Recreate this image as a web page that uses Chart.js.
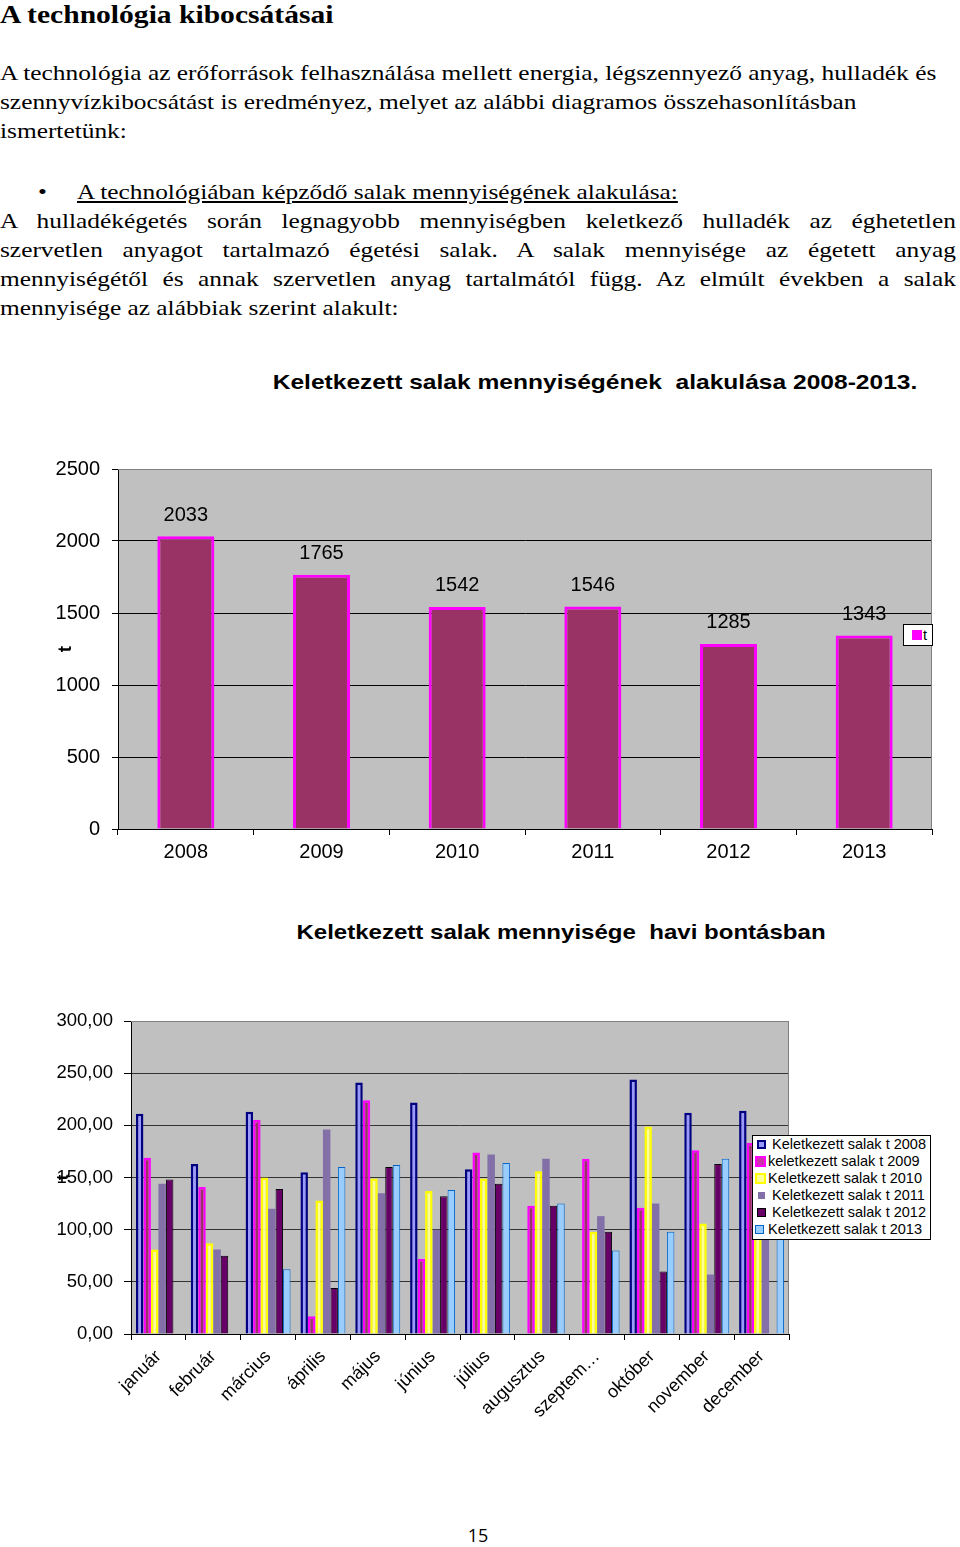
<!DOCTYPE html>
<html lang="hu">
<head>
<meta charset="utf-8">
<title>A technológia kibocsátásai</title>
<script src="https://cdn.jsdelivr.net/npm/chart.js@4.4.1/dist/chart.umd.min.js"></script>
<style>
  body { margin: 0; background: #fff; }
  #page { position: relative; width: 960px; height: 1547px; overflow: hidden;
          font-family: "Liberation Serif", "Times New Roman", serif; color: #000; }
  .ln { position: absolute; left: 0; font-size: 22px; line-height: 29px; white-space: nowrap;
        transform: scaleX(1.153); transform-origin: 0 0; }
  .just { width: 829px; text-align: justify; text-align-last: justify; white-space: normal; }
  .head { position: absolute; left: 0; top: 0; font-size: 26px; line-height: 29px; font-weight: bold;
          transform: scaleX(1.137); transform-origin: 0 0; white-space: nowrap; }
  .ctitle { position: absolute; font-family: "Liberation Sans", Arial, sans-serif; font-weight: bold;
            font-size: 21px; line-height: 24px; white-space: pre; }
  canvas { position: absolute; left: 0; }
  .legend { position: absolute; background: #fff; border: 1px solid #000; box-sizing: border-box;
            font-family: "Liberation Sans", Arial, sans-serif; font-size: 14.5px; line-height: 17px; }
  .legend div { position: relative; padding-left: 20px; white-space: nowrap; }
  .legend i { position: absolute; box-sizing: border-box; }
  .pnum { position: absolute; left: 478px; top: 1523px; transform: translateX(-50%);
          font-family: "Open Sans", "Liberation Sans", sans-serif; font-size: 18px; }
</style>
</head>
<body>
<div id="page">
  <div class="head">A technológia kibocsátásai</div>
  <div class="ln" style="top:58px">A technológia az erőforrások felhasználása mellett energia, légszennyező anyag, hulladék és</div>
  <div class="ln" style="top:87px">szennyvízkibocsátást is eredményez, melyet az alábbi diagramos összehasonlításban</div>
  <div class="ln" style="top:116px">ismertetünk:</div>
  <div class="ln" style="top:177px;left:38px">•</div>
  <div class="ln" style="top:177px;left:77px;text-decoration:underline">A technológiában képződő salak mennyiségének alakulása:</div>
  <div class="ln just" style="top:206px">A hulladékégetés során legnagyobb mennyiségben keletkező hulladék az éghetetlen</div>
  <div class="ln just" style="top:235px">szervetlen anyagot tartalmazó égetési salak. A salak mennyisége az égetett anyag</div>
  <div class="ln just" style="top:264px">mennyiségétől és annak szervetlen anyag tartalmától függ. Az elmúlt években a salak</div>
  <div class="ln" style="top:293px">mennyisége az alábbiak szerint alakult:</div>

  <div class="ctitle" style="left:595px;top:370px;transform:translateX(-50%) scaleX(1.17)">Keletkezett salak mennyiségének  alakulása 2008-2013.</div>
  <canvas id="yearly" width="960" height="440" style="top:440px"></canvas>
  <div class="legend" id="yearlyLegend" style="left:903px;top:624px;width:30px;height:22px"></div>

  <div class="ctitle" style="left:561px;top:920px;transform:translateX(-50%) scaleX(1.145)">Keletkezett salak mennyisége  havi bontásban</div>
  <canvas id="monthly" width="960" height="450" style="top:990px"></canvas>
  <div class="legend" id="monthlyLegend" style="left:752px;top:1135px;width:179px;height:105px"></div>

  <div class="pnum">15</div>
</div>

<script>
// --- éves adatok ---
const years = ['2008', '2009', '2010', '2011', '2012', '2013'];
const yearlyTons = [2033, 1765, 1542, 1546, 1285, 1343];

// --- havi adatok (t) ---
const months = ['január', 'február', 'március', 'április', 'május', 'június',
                'július', 'augusztus', 'szeptem…', 'október', 'november', 'december'];
const t2008 = [211, 163, 213, 155, 241, 222, 158, null, null, 244, 212, 214];
const t2009 = [169, 141, 205, 17, 224, 72, 174, 123, 168, 121, 176, 183];
const t2010 = [81, 87, 150, 128, 149, 137, 149, 156, 98, 199, 106, 112];
const t2011 = [144, 81, 120, 196, 135, 100, 172, 168, 113, 125, 57, 120];
const t2012 = [148, 75, 139, 44, 160, 132, 144, 123, 98, 60, 163, null];
const t2013 = [null, null, 62, 160, 162, 138, 164, 125, 80, 98, 168, 140];
const monthlyTicks = [0, 50, 100, 150, 200, 250, 300];

Chart.defaults.font.family = '"Liberation Sans", Arial, sans-serif';
Chart.defaults.color = '#000';
Chart.defaults.animation = false;

// szürke rajzterület, szürke keret jobb oldalon
const plotBg = {
  id: 'plotBg',
  beforeDraw(chart) {
    const { ctx, chartArea: a } = chart;
    ctx.save();
    ctx.fillStyle = '#c0c0c0';
    ctx.fillRect(a.left, a.top, a.right - a.left, a.bottom - a.top);
    ctx.restore();
  },
  beforeDatasetsDraw(chart) {
    const { ctx, chartArea: a } = chart;
    ctx.save();
    ctx.strokeStyle = '#808080';
    ctx.lineWidth = 1;
    ctx.beginPath();
    ctx.moveTo(a.left, a.top + 0.5);
    ctx.lineTo(a.right - 0.5, a.top + 0.5);
    ctx.lineTo(a.right - 0.5, a.bottom);
    ctx.stroke();
    ctx.restore();
  }
};

const barValues = {
  id: 'barValues',
  afterDatasetsDraw(chart) {
    const { ctx } = chart;
    const meta = chart.getDatasetMeta(0);
    ctx.save();
    ctx.font = '20px "Liberation Sans", Arial, sans-serif';
    ctx.fillStyle = '#000';
    ctx.textAlign = 'center';
    ctx.textBaseline = 'middle';
    meta.data.forEach((bar, i) => {
      ctx.fillText(String(yearlyTons[i]), bar.x, bar.y - 21);
    });
    ctx.restore();
  }
};

new Chart(document.getElementById('yearly'), {
  type: 'bar',
  data: {
    labels: years,
    datasets: [{
      label: 't',
      data: yearlyTons,
      backgroundColor: '#993366',
      borderColor: '#ff00ff',
      borderWidth: 3,
      categoryPercentage: 1,
      barPercentage: 0.42
    }]
  },
  options: {
    responsive: false,
    layout: { padding: { top: 29, right: 28, left: 0, bottom: 0 } },
    plugins: { legend: { display: false }, tooltip: { enabled: false } },
    scales: {
      x: {
        afterFit: s => { s.height = 51; },
        grid: { drawOnChartArea: false, color: '#000', tickLength: 6 },
        border: { color: '#000' },
        ticks: { font: { size: 20 }, padding: 5, color: '#000' }
      },
      y: {
        min: 0, max: 2500,
        afterFit: s => { s.width = 118; },
        ticks: { stepSize: 500, font: { size: 20 }, padding: 12, color: '#000', callback: v => String(v) },
        grid: { color: c => (c.tick && c.tick.value === 2500 ? '#808080' : '#000'), tickLength: 6, tickColor: '#000' },
        border: { color: '#000' },
        title: { display: true, text: 't', font: { size: 19, weight: 'bold' }, padding: { top: 54, bottom: 0 } }
      }
    }
  },
  plugins: [plotBg, barValues]
});

const series = [
  { label: 'Keletkezett salak t 2008', data: t2008, backgroundColor: '#9999ff', borderColor: '#000080', borderWidth: 2.5 },
  { label: 'keletkezett salak t 2009', data: t2009, backgroundColor: '#993366', borderColor: '#ff00ff', borderWidth: 2.5 },
  { label: 'Keletkezett salak t 2010', data: t2010, backgroundColor: '#ffff99', borderColor: '#ffff00', borderWidth: 2.5 },
  { label: 'Keletkezett salak t 2011', data: t2011, backgroundColor: '#8470a8', borderColor: '#8470a8', borderWidth: 0 },
  { label: 'Keletkezett salak t 2012', data: t2012, backgroundColor: '#660066', borderColor: '#000000', borderWidth: 1 },
  { label: 'Keletkezett salak t 2013', data: t2013, backgroundColor: '#99ccff', borderColor: '#0066cc', borderWidth: 1 }
];

new Chart(document.getElementById('monthly'), {
  type: 'bar',
  data: {
    labels: months,
    datasets: series.map(s => Object.assign({ categoryPercentage: 0.82, barPercentage: 1, borderSkipped: 'start' }, s))
  },
  options: {
    responsive: false,
    layout: { padding: { top: 31, right: 171, left: 0, bottom: 0 } },
    plugins: { legend: { display: false }, tooltip: { enabled: false } },
    scales: {
      x: {
        afterFit: s => { s.height = 106; },
        grid: { drawOnChartArea: false, color: '#000', tickLength: 6 },
        border: { color: '#000' },
        ticks: { font: { size: 18 }, autoSkip: false, minRotation: 45, maxRotation: 45, padding: 6, color: '#000' }
      },
      y: {
        min: 0, max: 300,
        afterFit: s => { s.width = 131; },
        afterBuildTicks: s => { s.ticks = monthlyTicks.map(v => ({ value: v })); },
        ticks: { font: { size: 18.5 }, padding: 11, color: '#000',
                 callback: v => v.toFixed(2).replace('.', ',') },
        grid: { color: c => (c.tick && c.tick.value === 300 ? '#808080' : '#333'), tickLength: 7, tickColor: '#000' },
        border: { color: '#000' },
        title: { display: true, text: 't', font: { size: 17, weight: 'bold' }, padding: { top: 53, bottom: 0 } }
      }
    }
  },
  plugins: [plotBg]
});

// jelmagyarázatok (a rajzterületre lógó dobozok, mint az eredetin)
const yl = document.getElementById('yearlyLegend');
yl.innerHTML = '<div style="padding-left:19px;line-height:20px">t<i style="left:8px;top:5px;width:10px;height:10px;background:#ff00ff;border:2px solid #ff00ff"></i></div>';

const ml = document.getElementById('monthlyLegend');
const markers = [
  'left:4px;top:4px;width:9px;height:9px;background:#9999ff;border:2px solid #000080',
  'left:2px;top:3px;width:11px;height:11px;background:#cc33aa;border:2px solid #ff00ff',
  'left:2px;top:3px;width:11px;height:11px;background:#ffff99;border:2px solid #ffff00',
  'left:5px;top:5px;width:7px;height:7px;background:#8470a8',
  'left:4px;top:4px;width:9px;height:9px;background:#660066;border:1px solid #000',
  'left:2px;top:4px;width:9px;height:9px;background:#99ccff;border:1px solid #0066cc'
];
const textLeft = [19, 15, 15, 19, 19, 15];
series.forEach((s, i) => {
  const row = document.createElement('div');
  row.style.paddingLeft = textLeft[i] + 'px';
  row.textContent = s.label;
  const m = document.createElement('i');
  m.style.cssText = markers[i];
  row.appendChild(m);
  ml.appendChild(row);
});
</script>
</body>
</html>
